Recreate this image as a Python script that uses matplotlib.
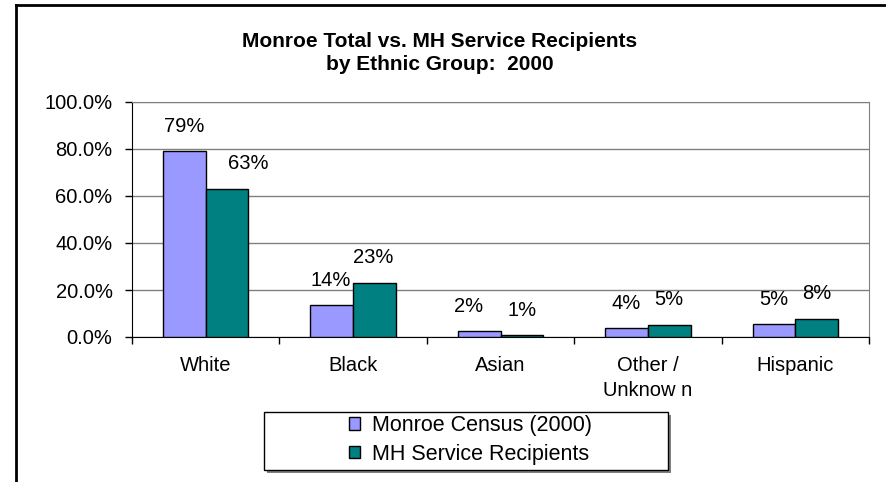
import numpy as np
import matplotlib
matplotlib.use("Agg")
import matplotlib.pyplot as plt
from matplotlib.ticker import PercentFormatter, FixedLocator
from matplotlib.patches import Patch, Rectangle
from matplotlib.lines import Line2D

plt.rcParams['font.family'] = ['Liberation Sans', 'DejaVu Sans']

# Datos
grupos = ["White", "Black", "Asian", "Other /\nUnknow n", "Hispanic"]
censo = [0.79, 0.136, 0.024, 0.038, 0.054]
servicios = [0.63, 0.231, 0.007, 0.053, 0.078]
series = ["Monroe Census (2000)", "MH Service Recipients"]

colores = ["#9999FF", "#008080"]
# desplazamientos horizontales de las etiquetas (pixeles)
dx_censo = [0, -1, -11, 0, 0]
dx_servicios = [21, -1, 0, 0, 0]

fig = plt.figure(figsize=(8.86, 4.82), dpi=100)
ax = fig.add_axes([132 / 886, 1 - 337 / 482, (869 - 132) / 886, (337 - 102) / 482])

x = np.arange(len(grupos))
w = 0.29
b1 = ax.bar(x - w / 2, censo, w, color=colores[0], edgecolor="black", linewidth=1.0, zorder=3)
b2 = ax.bar(x + w / 2, servicios, w, color=colores[1], edgecolor="black", linewidth=1.0, zorder=3)

for barras, vals, dxs in [(b1, censo, dx_censo), (b2, servicios, dx_servicios)]:
    for bar, v, dx in zip(barras, vals, dxs):
        ax.annotate(f"{v:.0%}", (bar.get_x() + bar.get_width() / 2, v),
                    xytext=(dx, 25), textcoords="offset pixels",
                    ha="center", va="center", fontsize=14.5)

ax.set_xlim(-0.5, len(grupos) - 0.5)
ax.set_ylim(0, 1.0)
ax.set_yticks(np.arange(0, 1.01, 0.2))
ax.yaxis.set_major_formatter(PercentFormatter(1.0, decimals=1))
ax.yaxis.grid(True, color="#808080", linewidth=1.0, zorder=0)

ax.set_xticks(x)
ax.set_xticklabels(grupos, fontsize=14.5, linespacing=1.35, va="top")
ax.xaxis.set_minor_locator(FixedLocator(np.arange(-0.5, len(grupos), 1.0)))
ax.tick_params(axis="x", which="major", length=0, pad=14)
ax.tick_params(axis="x", which="minor", length=5, width=1, direction="out")
ax.tick_params(axis="y", labelsize=14.5, length=5, width=1, direction="out", pad=9)

ax.spines["top"].set_color("#808080")
ax.spines["right"].set_color("#808080")
ax.spines["left"].set_color("black")
ax.spines["bottom"].set_color("black")

fig.text(440 / 886, 1 - 53 / 482, "Monroe Total vs. MH Service Recipients\nby Ethnic Group:  2000",
         ha="center", va="center", fontsize=15, fontweight="bold", linespacing=1.25)

# Borde del grafico
fig.add_artist(Line2D([16 / 886, 16 / 886], [0, 1 - 5 / 482], color="black", linewidth=2,
                      transform=fig.transFigure))
fig.add_artist(Line2D([16 / 886, 1], [1 - 5 / 482, 1 - 5 / 482], color="black", linewidth=2,
                      transform=fig.transFigure))

# Leyenda
fig.add_artist(Rectangle((267 / 886, 1 - 473 / 482), 404 / 886, 58 / 482,
                         transform=fig.transFigure, facecolor="#808080", edgecolor="none"))
fig.add_artist(Rectangle((264 / 886, 1 - 470 / 482), 404 / 886, 58 / 482,
                         transform=fig.transFigure, facecolor="white", edgecolor="black",
                         linewidth=1))
handles = [Patch(facecolor=c, edgecolor="black", linewidth=1) for c in colores]
leg = fig.legend(handles, series, loc="center left", bbox_to_anchor=(349 / 886, 1 - 440 / 482),
                 frameon=False, fontsize=15.5, handlelength=0.5, handleheight=0.5,
                 handletextpad=0.55, labelspacing=0.35, borderpad=0, borderaxespad=0)

fig.savefig("out.png", dpi=100)
